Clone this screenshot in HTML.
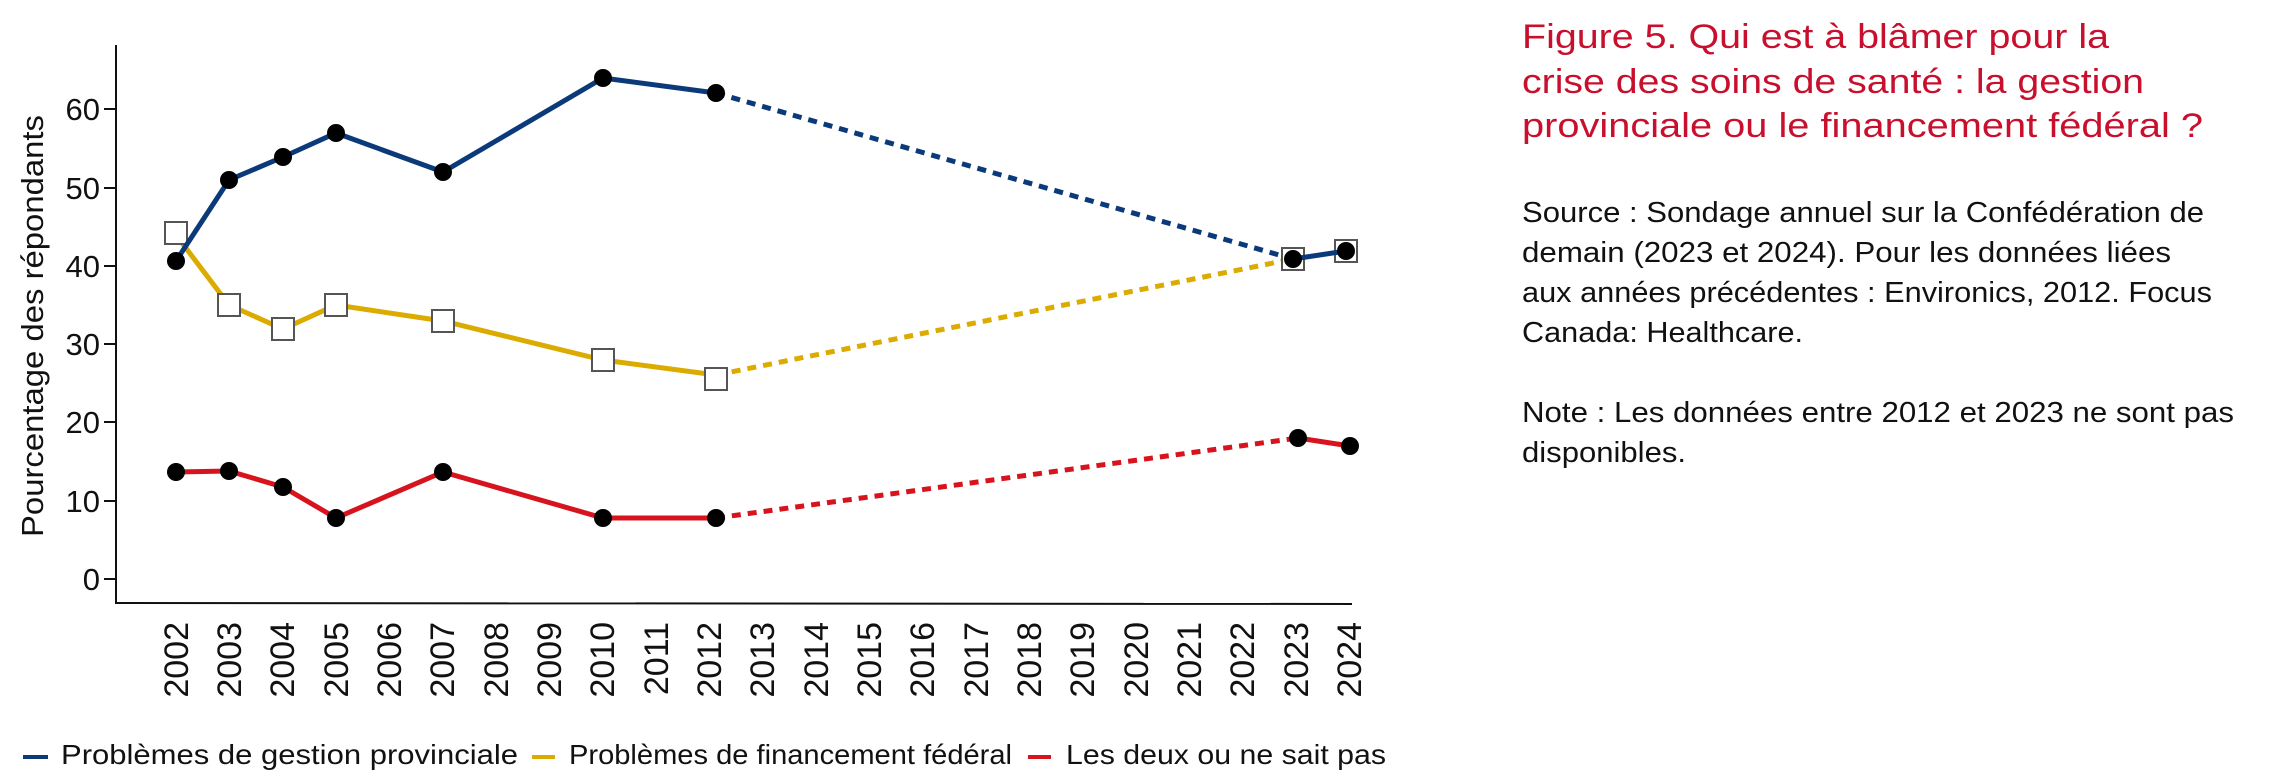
<!DOCTYPE html>
<html><head><meta charset="utf-8"><style>
html,body{margin:0;padding:0;background:#fff;}
svg{display:block;font-family:"Liberation Sans",sans-serif;}
</style></head><body>
<svg width="2276" height="781" viewBox="0 0 2276 781" xmlns="http://www.w3.org/2000/svg">
<line x1="116" y1="45" x2="116" y2="604" stroke="#111" stroke-width="2"/>
<line x1="116" y1="603" x2="1352" y2="604" stroke="#111" stroke-width="2"/>
<g stroke="#111" stroke-width="2">
<line x1="104" y1="109" x2="116" y2="109"/><line x1="104" y1="188" x2="116" y2="188"/>
<line x1="104" y1="266" x2="116" y2="266"/><line x1="104" y1="344" x2="116" y2="344"/>
<line x1="104" y1="422" x2="116" y2="422"/><line x1="104" y1="501" x2="116" y2="501"/>
<line x1="104" y1="579" x2="116" y2="579"/>
</g>
<g font-size="31" fill="#111" text-anchor="end">
<text x="100" y="120">60</text><text x="100" y="199">50</text><text x="100" y="277">40</text>
<text x="100" y="355">30</text><text x="100" y="433">20</text><text x="100" y="512">10</text>
<text x="100" y="590">0</text>
</g>
<text transform="translate(43,326) rotate(-90)" font-size="31" fill="#111" text-anchor="middle" textLength="422" lengthAdjust="spacingAndGlyphs">Pourcentage des répondants</text>
<g font-size="34" fill="#111" text-anchor="end">
<text transform="translate(188,622) rotate(-90)">2002</text>
<text transform="translate(241,622) rotate(-90)">2003</text>
<text transform="translate(294,622) rotate(-90)">2004</text>
<text transform="translate(348,622) rotate(-90)">2005</text>
<text transform="translate(401,622) rotate(-90)">2006</text>
<text transform="translate(454,622) rotate(-90)">2007</text>
<text transform="translate(508,622) rotate(-90)">2008</text>
<text transform="translate(561,622) rotate(-90)">2009</text>
<text transform="translate(614,622) rotate(-90)">2010</text>
<text transform="translate(668,622) rotate(-90)">2011</text>
<text transform="translate(721,622) rotate(-90)">2012</text>
<text transform="translate(774,622) rotate(-90)">2013</text>
<text transform="translate(828,622) rotate(-90)">2014</text>
<text transform="translate(881,622) rotate(-90)">2015</text>
<text transform="translate(934,622) rotate(-90)">2016</text>
<text transform="translate(988,622) rotate(-90)">2017</text>
<text transform="translate(1041,622) rotate(-90)">2018</text>
<text transform="translate(1094,622) rotate(-90)">2019</text>
<text transform="translate(1148,622) rotate(-90)">2020</text>
<text transform="translate(1201,622) rotate(-90)">2021</text>
<text transform="translate(1254,622) rotate(-90)">2022</text>
<text transform="translate(1308,622) rotate(-90)">2023</text>
<text transform="translate(1361,622) rotate(-90)">2024</text>
</g>
<g fill="none" stroke="#dcab00" stroke-width="5">
<polyline points="176,235 229,305 283,329 336,305 443,321 603,360 716,375"/>
<line x1="716" y1="375" x2="1293" y2="259" stroke-dasharray="9,7"/>
</g>
<g fill="#fff" stroke="#555" stroke-width="2">
<rect x="165" y="222" width="22" height="22"/><rect x="218" y="294" width="22" height="22"/>
<rect x="272" y="318" width="22" height="22"/><rect x="325" y="294" width="22" height="22"/>
<rect x="432" y="310" width="22" height="22"/><rect x="592" y="349" width="22" height="22"/>
<rect x="705" y="368" width="22" height="22"/><rect x="1282" y="248" width="22" height="22"/>
<rect x="1335" y="240" width="22" height="22"/>
</g>
<g fill="none" stroke="#0b3a7a" stroke-width="5">
<polyline points="176,261 229,180 283,157 336,133 443,172 603,78 716,93"/>
<line x1="716" y1="93" x2="1293" y2="259" stroke-dasharray="9,7"/>
<line x1="1293" y1="259" x2="1346" y2="251"/>
</g>
<g fill="#000">
<circle cx="176" cy="261" r="9"/><circle cx="229" cy="180" r="9"/><circle cx="283" cy="157" r="9"/>
<circle cx="336" cy="133" r="9"/><circle cx="443" cy="172" r="9"/><circle cx="603" cy="78" r="9"/>
<circle cx="716" cy="93" r="9"/><circle cx="1293" cy="259" r="9"/><circle cx="1346" cy="251" r="9"/>
</g>
<g fill="none" stroke="#d7141e" stroke-width="5">
<polyline points="176,472 229,471 283,487 336,518 443,472 603,518 716,518"/>
<line x1="716" y1="518" x2="1298" y2="438" stroke-dasharray="9,7"/>
<line x1="1298" y1="438" x2="1350" y2="446"/>
</g>
<g fill="#000">
<circle cx="176" cy="472" r="9"/><circle cx="229" cy="471" r="9"/><circle cx="283" cy="487" r="9"/>
<circle cx="336" cy="518" r="9"/><circle cx="443" cy="472" r="9"/><circle cx="603" cy="518" r="9"/>
<circle cx="716" cy="518" r="9"/><circle cx="1298" cy="438" r="9"/><circle cx="1350" cy="446" r="9"/>
</g>
<rect x="23" y="755" width="25" height="4" fill="#0b3a7a"/>
<rect x="532" y="755" width="23" height="4" fill="#dcab00"/>
<rect x="1028" y="755" width="23" height="4" fill="#d7141e"/>
<g font-size="28" fill="#111">
<text x="61" y="764" textLength="457" lengthAdjust="spacingAndGlyphs">Problèmes de gestion provinciale</text>
<text x="569" y="764" textLength="443" lengthAdjust="spacingAndGlyphs">Problèmes de financement fédéral</text>
<text x="1066" y="764" textLength="320" lengthAdjust="spacingAndGlyphs">Les deux ou ne sait pas</text>
</g>
<g font-size="34" fill="#c8102e">
<text x="1522" y="48" textLength="587" lengthAdjust="spacingAndGlyphs">Figure 5. Qui est à blâmer pour la</text>
<text x="1522" y="93" textLength="622" lengthAdjust="spacingAndGlyphs">crise des soins de santé : la gestion</text>
<text x="1522" y="137" textLength="681" lengthAdjust="spacingAndGlyphs">provinciale ou le financement fédéral ?</text>
</g>
<g font-size="29" fill="#111">
<text x="1522" y="222" textLength="682" lengthAdjust="spacingAndGlyphs">Source : Sondage annuel sur la Confédération de</text>
<text x="1522" y="262" textLength="649" lengthAdjust="spacingAndGlyphs">demain (2023 et 2024). Pour les données liées</text>
<text x="1522" y="302" textLength="690" lengthAdjust="spacingAndGlyphs">aux années précédentes : Environics, 2012. Focus</text>
<text x="1522" y="342" textLength="281" lengthAdjust="spacingAndGlyphs">Canada: Healthcare.</text>
<text x="1522" y="422" textLength="712" lengthAdjust="spacingAndGlyphs">Note : Les données entre 2012 et 2023 ne sont pas</text>
<text x="1522" y="462" textLength="164" lengthAdjust="spacingAndGlyphs">disponibles.</text>
</g>
</svg>
</body></html>
